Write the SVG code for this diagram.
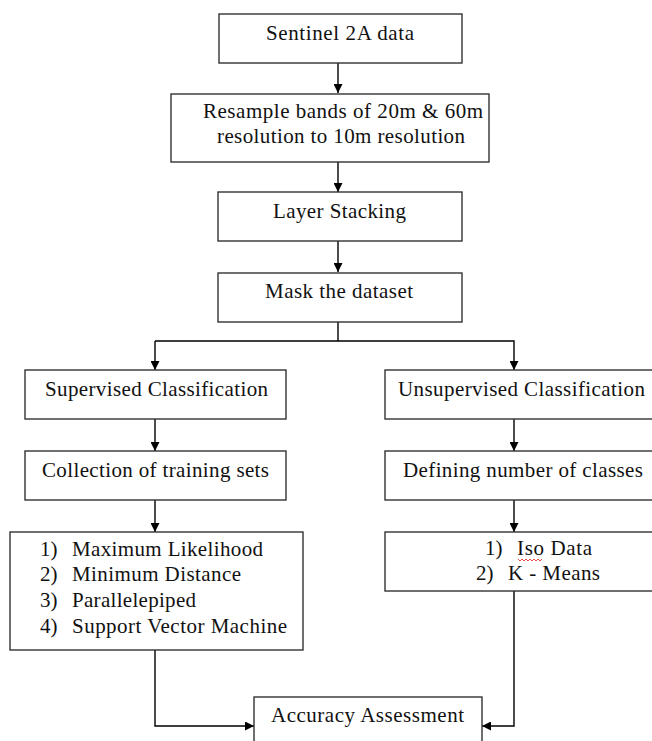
<svg xmlns="http://www.w3.org/2000/svg" width="652" height="741" viewBox="0 0 652 741">
<style>
.box{fill:#fff;stroke:#333;stroke-width:1.4}
.t{font-family:"Liberation Serif","Times New Roman",serif;font-size:21px;fill:#111}
.ln{fill:none;stroke:#000;stroke-width:1.4}
</style>
<defs>
<marker id="ah" viewBox="0 0 10 10" refX="10" refY="5" markerWidth="9" markerHeight="9" markerUnits="userSpaceOnUse" orient="auto">
<path d="M0,0 L10,5 L0,10 z" fill="#000"/>
</marker>
</defs>
<rect width="652" height="741" fill="#fff"/>
<g id="connectors">
<line class="ln" x1="338" y1="63" x2="338" y2="93" marker-end="url(#ah)"/>
<line class="ln" x1="338" y1="162" x2="338" y2="192" marker-end="url(#ah)"/>
<line class="ln" x1="338" y1="241" x2="338" y2="272" marker-end="url(#ah)"/>
<polyline class="ln" points="338,322 338,341"/>
<polyline class="ln" points="155,341 514,341 514,370" marker-end="url(#ah)"/>
<line class="ln" x1="155" y1="341" x2="155" y2="370" marker-end="url(#ah)"/>
<line class="ln" x1="155" y1="419" x2="155" y2="451" marker-end="url(#ah)"/>
<line class="ln" x1="155" y1="500" x2="155" y2="532" marker-end="url(#ah)"/>
<line class="ln" x1="514" y1="419" x2="514" y2="451" marker-end="url(#ah)"/>
<line class="ln" x1="514" y1="500" x2="514" y2="532" marker-end="url(#ah)"/>
<polyline class="ln" points="155,650 155,726 254,726" marker-end="url(#ah)"/>
<polyline class="ln" points="514,591 514,726 482,726" marker-end="url(#ah)"/>
</g>
<g id="sentinel">
<rect class="box" x="219" y="14" width="243" height="49"/>
<text class="t" x="266" y="40" textLength="148" lengthAdjust="spacing">Sentinel 2A data</text>
</g>
<g id="resample">
<rect class="box" x="171" y="94" width="318" height="68"/>
<text class="t" x="203" y="118" textLength="280" lengthAdjust="spacing">Resample bands of 20m &amp; 60m</text>
<text class="t" x="217" y="143" textLength="248" lengthAdjust="spacing">resolution to 10m resolution</text>
</g>
<g id="stacking">
<rect class="box" x="218" y="192" width="244" height="49"/>
<text class="t" x="273" y="218" textLength="133" lengthAdjust="spacing">Layer Stacking</text>
</g>
<g id="mask">
<rect class="box" x="218" y="273" width="244" height="49"/>
<text class="t" x="265" y="298" textLength="148" lengthAdjust="spacing">Mask the dataset</text>
</g>
<g id="supervised">
<rect class="box" x="25" y="370" width="261" height="49"/>
<text class="t" x="45" y="396" textLength="223" lengthAdjust="spacing">Supervised Classification</text>
</g>
<g id="training">
<rect class="box" x="25" y="451" width="261" height="49"/>
<text class="t" x="42" y="477" textLength="227" lengthAdjust="spacing">Collection of training sets</text>
</g>
<g id="methods">
<rect class="box" x="10" y="532" width="293" height="118"/>
<text class="t" x="40" y="556">1)</text><text class="t" x="72" y="556" textLength="191" lengthAdjust="spacing">Maximum Likelihood</text>
<text class="t" x="40" y="581">2)</text><text class="t" x="72" y="581" textLength="169" lengthAdjust="spacing">Minimum Distance</text>
<text class="t" x="40" y="607">3)</text><text class="t" x="72" y="607" textLength="124" lengthAdjust="spacing">Parallelepiped</text>
<text class="t" x="40" y="633">4)</text><text class="t" x="72" y="633" textLength="215" lengthAdjust="spacing">Support Vector Machine</text>
</g>
<g id="unsupervised">
<rect class="box" x="385" y="370" width="275" height="49"/>
<text class="t" x="398" y="396" textLength="247" lengthAdjust="spacing">Unsupervised Classification</text>
</g>
<g id="classes">
<rect class="box" x="385" y="451" width="275" height="49"/>
<text class="t" x="403" y="477" textLength="240" lengthAdjust="spacing">Defining number of classes</text>
</g>
<g id="clustering">
<rect class="box" x="385" y="532" width="275" height="59"/>
<text class="t" x="485" y="555">1)</text><text class="t" x="517" y="555" textLength="75" lengthAdjust="spacing">Iso Data</text>
<path d="M518,559 l2,2 l2,-2 l2,2 l2,-2 l2,2 l2,-2 l2,2 l2,-2 l2,2 l2,-2 l2,2 l2,-2" fill="none" stroke="#e02020" stroke-width="0.8"/>
<text class="t" x="476" y="580">2)</text><text class="t" x="508" y="580" textLength="92" lengthAdjust="spacing">K - Means</text>
</g>
<g id="accuracy">
<rect class="box" x="254" y="697" width="228" height="60"/>
<text class="t" x="271" y="722" textLength="193" lengthAdjust="spacing">Accuracy Assessment</text>
</g>
</svg>
